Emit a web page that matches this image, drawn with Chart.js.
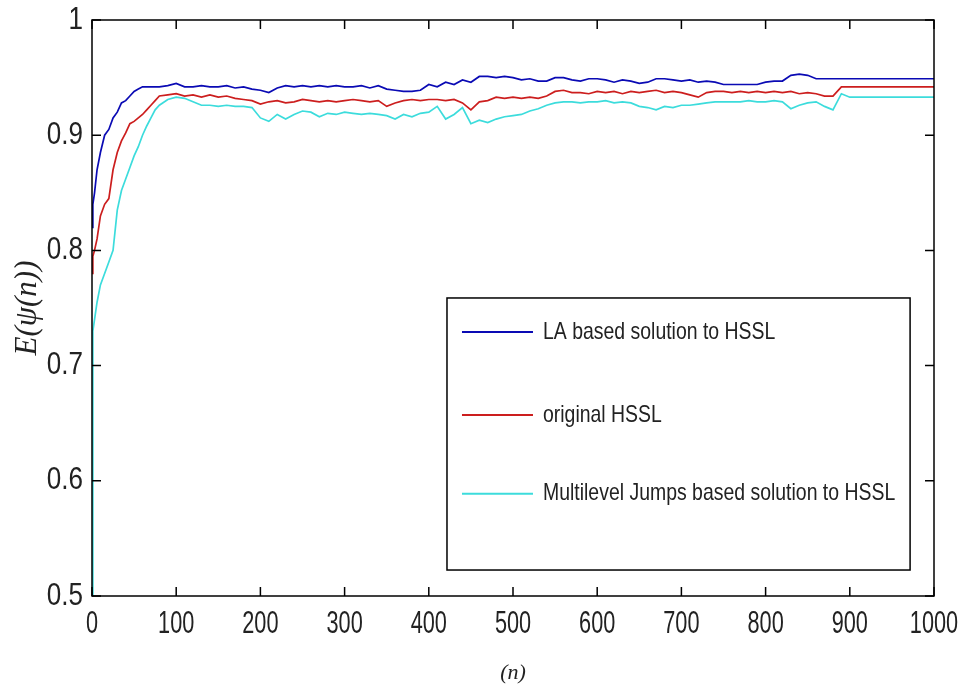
<!DOCTYPE html>
<html>
<head>
<meta charset="utf-8">
<script src="https://cdn.jsdelivr.net/npm/chart.js@4"></script>
<style>
  html, body { margin: 0; padding: 0; background: #fff; }
  #wrap { width: 966px; height: 694px; }
</style>
</head>
<body>
<div id="wrap"><canvas id="chart" width="966" height="694"></canvas></div>
<script>
// 데이터
const nValues = [0, 1, 3, 6, 10, 15, 20, 25, 30, 35, 40, 45, 50, 55, 60, 65, 70, 75, 80,
  90, 100, 110, 120, 130, 140, 150, 160, 170, 180, 190, 200, 210, 220, 230, 240, 250, 260, 270, 280, 290,
  300, 310, 320, 330, 340, 350, 360, 370, 380, 390, 400, 410, 420, 430, 440, 450, 460, 470, 480, 490,
  500, 510, 520, 530, 540, 550, 560, 570, 580, 590, 600, 610, 620, 630, 640, 650, 660, 670, 680, 690,
  700, 710, 720, 730, 740, 750, 760, 770, 780, 790, 800, 810, 820, 830, 840, 850, 860, 870, 880, 890,
  900, 910, 920, 930, 940, 950, 960, 970, 980, 990, 1000];

const laValues = [0.82, 0.84, 0.85, 0.87, 0.885, 0.90, 0.905, 0.915, 0.92, 0.928, 0.93, 0.934, 0.938, 0.94, 0.942, 0.942, 0.942, 0.942, 0.942,
  0.943, 0.945, 0.942, 0.942, 0.943, 0.942, 0.942, 0.943, 0.941, 0.942, 0.940, 0.939, 0.937, 0.941, 0.943, 0.942, 0.943, 0.942, 0.943, 0.942, 0.943,
  0.942, 0.942, 0.943, 0.941, 0.943, 0.940, 0.939, 0.938, 0.938, 0.939, 0.944, 0.942, 0.946, 0.944, 0.948, 0.946, 0.951, 0.951, 0.950, 0.951,
  0.950, 0.948, 0.949, 0.947, 0.947, 0.950, 0.950, 0.948, 0.947, 0.949, 0.949, 0.948, 0.946, 0.948, 0.947, 0.945, 0.946, 0.949, 0.949, 0.948,
  0.947, 0.948, 0.946, 0.947, 0.946, 0.944, 0.944, 0.944, 0.944, 0.944, 0.946, 0.947, 0.947, 0.952, 0.953, 0.952, 0.949, 0.949, 0.949, 0.949,
  0.949, 0.949, 0.949, 0.949, 0.949, 0.949, 0.949, 0.949, 0.949, 0.949, 0.949];

const hsslValues = [0.78, 0.795, 0.80, 0.81, 0.83, 0.84, 0.845, 0.87, 0.885, 0.895, 0.902, 0.91, 0.912, 0.915, 0.918, 0.922, 0.926, 0.93, 0.934,
  0.935, 0.936, 0.934, 0.935, 0.933, 0.935, 0.933, 0.934, 0.932, 0.931, 0.930, 0.927, 0.929, 0.930, 0.928, 0.929, 0.931, 0.930, 0.929, 0.930, 0.929,
  0.930, 0.931, 0.930, 0.929, 0.930, 0.925, 0.928, 0.930, 0.931, 0.930, 0.931, 0.931, 0.930, 0.931, 0.928, 0.922, 0.929, 0.930, 0.933, 0.932,
  0.933, 0.932, 0.933, 0.932, 0.934, 0.938, 0.939, 0.937, 0.937, 0.936, 0.938, 0.937, 0.938, 0.936, 0.938, 0.937, 0.938, 0.939, 0.937, 0.938,
  0.937, 0.935, 0.933, 0.937, 0.938, 0.938, 0.937, 0.938, 0.937, 0.938, 0.937, 0.938, 0.937, 0.938, 0.936, 0.937, 0.936, 0.934, 0.934, 0.942,
  0.942, 0.942, 0.942, 0.942, 0.942, 0.942, 0.942, 0.942, 0.942, 0.942, 0.942];

const jumpsValues = [0.50, 0.73, 0.74, 0.755, 0.77, 0.78, 0.79, 0.80, 0.835, 0.852, 0.862, 0.872, 0.882, 0.89, 0.90, 0.908, 0.915, 0.922, 0.926,
  0.931, 0.933, 0.932, 0.929, 0.926, 0.926, 0.925, 0.926, 0.925, 0.925, 0.924, 0.915, 0.912, 0.918, 0.914, 0.918, 0.921, 0.920, 0.916, 0.919, 0.918,
  0.920, 0.919, 0.918, 0.919, 0.918, 0.917, 0.914, 0.918, 0.916, 0.919, 0.920, 0.925, 0.914, 0.918, 0.924, 0.910, 0.913, 0.911, 0.914, 0.916,
  0.917, 0.918, 0.921, 0.923, 0.926, 0.928, 0.929, 0.929, 0.928, 0.929, 0.929, 0.930, 0.928, 0.929, 0.928, 0.925, 0.924, 0.922, 0.925, 0.924,
  0.926, 0.926, 0.927, 0.928, 0.929, 0.929, 0.929, 0.929, 0.930, 0.929, 0.929, 0.930, 0.929, 0.923, 0.926, 0.928, 0.929, 0.925, 0.922, 0.936,
  0.933, 0.933, 0.933, 0.933, 0.933, 0.933, 0.933, 0.933, 0.933, 0.933, 0.933];

const seriesNames = ['LA based solution to HSSL', 'original HSSL', 'Multilevel Jumps based solution to HSSL'];
const xTicks = [0, 100, 200, 300, 400, 500, 600, 700, 800, 900, 1000];
const yTicks = [0.5, 0.6, 0.7, 0.8, 0.9, 1];

const sansFont = "'Liberation Sans', Arial, sans-serif";
const toPoints = vals => vals.map((v, i) => ({ x: nValues[i], y: v }));

// 좁은 글꼴 흉내 (가로로 눌러서 그림)
function narrowText(ctx, text, x, y, squeeze, align) {
  ctx.save();
  ctx.translate(x, y);
  ctx.scale(squeeze, 1);
  ctx.textAlign = align;
  ctx.fillText(text, 0, 0);
  ctx.restore();
}

// 안쪽 눈금 + 상자 테두리 + 눈금 글자 + 범례
const matlabFrame = {
  id: 'matlabFrame',
  afterDatasetsDraw(chart) {
    const { ctx, chartArea: a, scales: { x, y } } = chart;
    const len = 9;
    ctx.save();
    ctx.strokeStyle = '#000';
    ctx.lineWidth = 1.5;
    ctx.strokeRect(a.left, a.top, a.right - a.left, a.bottom - a.top);
    ctx.beginPath();
    xTicks.forEach(t => {
      const px = x.getPixelForValue(t);
      ctx.moveTo(px, a.bottom); ctx.lineTo(px, a.bottom - len);
      ctx.moveTo(px, a.top); ctx.lineTo(px, a.top + len);
    });
    yTicks.forEach(t => {
      const py = y.getPixelForValue(t);
      ctx.moveTo(a.left, py); ctx.lineTo(a.left + len, py);
      ctx.moveTo(a.right, py); ctx.lineTo(a.right - len, py);
    });
    ctx.stroke();

    // tick labels
    ctx.fillStyle = '#222';
    ctx.font = '31px ' + sansFont;
    ctx.textBaseline = 'middle';
    xTicks.forEach(t => narrowText(ctx, String(t), x.getPixelForValue(t), a.bottom + 28, 0.7, 'center'));
    yTicks.forEach(t => narrowText(ctx, String(t), a.left - 9, y.getPixelForValue(t), 0.84, 'right'));

    // legend box
    const w = a.right - a.left, h = a.bottom - a.top;
    const bx = a.left + w * 0.4216, by = a.top + h * 0.4826;
    const bw = w * 0.5500, bh = h * 0.4723;
    ctx.fillStyle = '#fff';
    ctx.fillRect(bx, by, bw, bh);
    ctx.strokeStyle = '#000';
    ctx.lineWidth = 1.5;
    ctx.strokeRect(bx, by, bw, bh);
    const rows = [0.125, 0.43, 0.72];
    ctx.font = '24px ' + sansFont;
    chart.data.datasets.forEach((ds, i) => {
      const ly = by + bh * rows[i];
      ctx.strokeStyle = ds.borderColor;
      ctx.lineWidth = 2;
      ctx.beginPath();
      ctx.moveTo(bx + 15, ly); ctx.lineTo(bx + 86, ly);
      ctx.stroke();
      ctx.fillStyle = '#222';
      narrowText(ctx, ds.label, bx + 96, ly, 0.81, 'left');
    });
    ctx.restore();
  }
};

new Chart(document.getElementById('chart').getContext('2d'), {
  type: 'line',
  data: {
    datasets: [
      { label: seriesNames[0], data: toPoints(laValues), borderColor: '#0a0ab4', borderWidth: 1.7 },
      { label: seriesNames[1], data: toPoints(hsslValues), borderColor: '#cc1e1e', borderWidth: 1.7 },
      { label: seriesNames[2], data: toPoints(jumpsValues), borderColor: '#3cdcdc', borderWidth: 1.7 }
    ]
  },
  options: {
    responsive: false,
    animation: false,
    elements: { point: { radius: 0 }, line: { tension: 0 } },
    layout: { padding: { top: 20, right: 32, left: 0, bottom: 0 } },
    plugins: { legend: { display: false }, tooltip: { enabled: false } },
    scales: {
      x: {
        type: 'linear',
        min: 0, max: 1000,
        afterBuildTicks: s => { s.ticks = xTicks.map(v => ({ value: v })); },
        afterFit: s => { s.height = 98; },
        grid: { display: false },
        border: { display: false },
        ticks: { display: false },
        title: {
          display: true, text: '(n)', color: '#222', padding: { top: 0, bottom: 8 },
          font: { family: "'Liberation Serif', 'DejaVu Serif', serif", size: 22, style: 'italic' }
        }
      },
      y: {
        min: 0.5, max: 1,
        afterBuildTicks: s => { s.ticks = yTicks.map(v => ({ value: v })); },
        afterFit: s => { s.width = 92; },
        grid: { display: false },
        border: { display: false },
        ticks: { display: false },
        title: {
          display: true, text: 'E(ψ(n))', color: '#222', padding: { top: 9, bottom: 0 },
          font: { family: "'Liberation Serif', 'DejaVu Serif', serif", size: 31, style: 'italic' }
        }
      }
    }
  },
  plugins: [matlabFrame]
});
</script>
</body>
</html>
